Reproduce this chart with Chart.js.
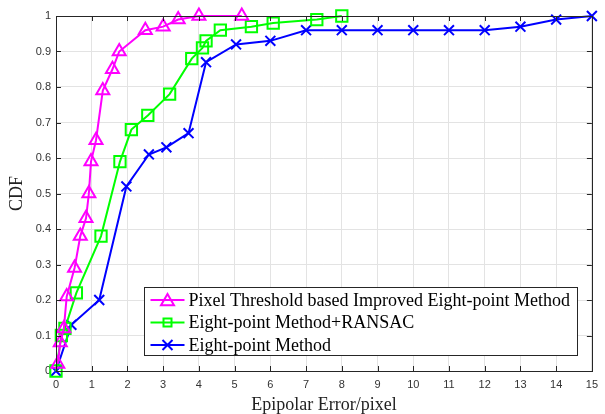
<!DOCTYPE html>
<html>
<head>
<meta charset="utf-8">
<script src="https://cdn.jsdelivr.net/npm/chart.js@4"></script>
<style>
  html, body { margin: 0; padding: 0; background: #fff; }
  #wrap { width: 605px; height: 414px; }
</style>
</head>
<body>
<div id="wrap"><canvas id="chart" width="605" height="414"></canvas></div>
<script>
// Pixel Threshold based Improved Eight-point Method
const improvedX = [0.05, 0.12, 0.22, 0.3, 0.52, 0.68, 0.84, 0.92, 0.98, 1.12, 1.31, 1.58, 1.77, 2.5, 3.0, 3.42, 4.0, 5.2];
const improvedY = [0.02, 0.08, 0.12, 0.21, 0.29, 0.38, 0.43, 0.5, 0.59, 0.65, 0.79, 0.85, 0.9, 0.96, 0.97, 0.99, 1.0, 1.0];

// Eight-point Method+RANSAC
const ransacX = [0, 0.15, 0.25, 0.57, 1.26, 1.79, 2.11, 2.57, 3.18, 3.8, 4.1, 4.2, 4.6, 5.47, 6.08, 7.3, 8.0];
const ransacY = [0, 0.1, 0.12, 0.22, 0.38, 0.59, 0.68, 0.72, 0.78, 0.88, 0.91, 0.93, 0.96, 0.97, 0.98, 0.99, 1.0];

// Eight-point Method
const eightX = [0, 0.43, 1.21, 1.97, 2.6, 3.09, 3.71, 4.2, 5.04, 6, 7, 8, 9, 10, 11, 12, 13, 14, 15];
const eightY = [0, 0.13, 0.2, 0.52, 0.61, 0.63, 0.67, 0.87, 0.92, 0.93, 0.96, 0.96, 0.96, 0.96, 0.96, 0.96, 0.97, 0.99, 1.0];

const seriesNames = [
  "Pixel Threshold based Improved Eight-point Method",
  "Eight-point Method+RANSAC",
  "Eight-point Method",
];

const xTicks = [0, 1, 2, 3, 4, 5, 6, 7, 8, 9, 10, 11, 12, 13, 14, 15];
const yTicks = [0, 0.1, 0.2, 0.3, 0.4, 0.5, 0.6, 0.7, 0.8, 0.9, 1];

const serif = "'Liberation Serif', 'Times New Roman', serif";
const sans = "'Liberation Sans', Arial, sans-serif";

const toPoints = (xs, ys) => xs.map((x, i) => ({ x: x, y: ys[i] }));

const makeSet = (label, xs, ys, color, style, radius) => ({
  label: label,
  data: toPoints(xs, ys),
  showLine: true,
  borderColor: color,
  backgroundColor: "rgba(0,0,0,0)",
  borderWidth: 2,
  pointStyle: style,
  pointRadius: radius,
  pointBorderWidth: 2,
  pointBorderColor: color,
  pointBackgroundColor: "rgba(0,0,0,0)",
  tension: 0,
  clip: false,
});

const sets = [
  makeSet(seriesNames[0], improvedX, improvedY, "#ff00ff", "triangle", 7.5),
  makeSet(seriesNames[1], ransacX, ransacY, "#00ff00", "rect", 8),
  makeSet(seriesNames[2], eightX, eightY, "#0000ff", "crossRot", 7),
];

// matlab style box: border on all sides + inward ticks, legend inside
const boxPlugin = {
  id: "box",
  afterDatasetsDraw(chart) {
    const { ctx, chartArea: a, scales } = chart;
    ctx.save();
    ctx.strokeStyle = "#262626";
    ctx.lineWidth = 1;
    ctx.beginPath();
    xTicks.forEach((t) => {
      const px = Math.round(scales.x.getPixelForValue(t)) + 0.5;
      ctx.moveTo(px, a.bottom);
      ctx.lineTo(px, a.bottom - 5);
      ctx.moveTo(px, a.top);
      ctx.lineTo(px, a.top + 5);
    });
    yTicks.forEach((t) => {
      const py = Math.round(scales.y.getPixelForValue(t)) + 0.5;
      ctx.moveTo(a.left, py);
      ctx.lineTo(a.left + 5, py);
      ctx.moveTo(a.right, py);
      ctx.lineTo(a.right - 5, py);
    });
    ctx.stroke();
    ctx.strokeRect(Math.round(a.left) + 0.5, Math.round(a.top) + 0.5, Math.round(a.right - a.left), Math.round(a.bottom - a.top));
    ctx.restore();
  },
  afterDraw(chart) {
    const { ctx, chartArea: a } = chart;
    ctx.save();
    ctx.font = "18px " + serif;
    let textW = 0;
    seriesNames.forEach((n) => { textW = Math.max(textW, ctx.measureText(n).width); });
    const rowH = 22.5;
    const w = Math.round(44 + textW + 8);
    const h = 68;
    const right = a.right - 15;
    const bottom = a.bottom - 16;
    const left = Math.round(right - w) + 0.5;
    const top = Math.round(bottom - h) + 0.5;
    ctx.fillStyle = "#fff";
    ctx.fillRect(left, top, w, h);
    ctx.strokeStyle = "#262626";
    ctx.lineWidth = 1;
    ctx.strokeRect(left, top, w, h);
    chart.data.datasets.forEach((ds, i) => {
      const cy = top + 12.5 + i * rowH;
      const x0 = left + 6;
      const x1 = left + 40;
      const cx = (x0 + x1) / 2;
      ctx.strokeStyle = ds.borderColor;
      ctx.lineWidth = 2;
      ctx.beginPath();
      ctx.moveTo(x0, cy);
      ctx.lineTo(x1, cy);
      ctx.stroke();
      ctx.beginPath();
      if (ds.pointStyle === "triangle") {
        const r = 7.5;
        for (let k = 0; k < 3; k++) {
          const ang = k * 2 * Math.PI / 3;
          const px = cx + Math.sin(ang) * r;
          const py = cy + 1.5 - Math.cos(ang) * r;
          if (k === 0) ctx.moveTo(px, py); else ctx.lineTo(px, py);
        }
        ctx.closePath();
      } else if (ds.pointStyle === "rect") {
        ctx.rect(cx - 4, cy - 4, 8, 8);
      } else {
        ctx.moveTo(cx - 5, cy - 5); ctx.lineTo(cx + 5, cy + 5);
        ctx.moveTo(cx + 5, cy - 5); ctx.lineTo(cx - 5, cy + 5);
      }
      ctx.stroke();
      ctx.fillStyle = "#000";
      ctx.textBaseline = "middle";
      ctx.textAlign = "left";
      ctx.fillText(ds.label, left + 44, cy + 1);
    });
    ctx.restore();
  },
};

const ctx = document.getElementById("chart").getContext("2d");
const myChart = new Chart(ctx, {
  type: "scatter",
  data: { datasets: sets },
  plugins: [boxPlugin],
  options: {
    responsive: false,
    animation: false,
    layout: { padding: { top: 16, right: 8, left: 0, bottom: 0 } },
    plugins: { legend: { display: false }, tooltip: { enabled: false } },
    scales: {
      x: {
        type: "linear",
        min: 0,
        max: 15,
        afterBuildTicks: (scale) => { scale.ticks = xTicks.map((v) => ({ value: v })); },
        afterFit: (scale) => { scale.height = 43; },
        grid: { color: "#e3e3e3", drawTicks: false },
        border: { display: false },
        ticks: {
          padding: 7,
          color: "#333",
          font: { family: sans, size: 11 },
          maxRotation: 0,
          callback: (v) => String(v),
        },
        title: {
          display: true,
          text: "Epipolar Error/pixel",
          color: "#222",
          font: { family: serif, size: 18, lineHeight: 1 },
          padding: { top: 0, bottom: 0 },
        },
      },
      y: {
        type: "linear",
        min: 0,
        max: 1,
        afterBuildTicks: (scale) => { scale.ticks = yTicks.map((v) => ({ value: v })); },
        afterFit: (scale) => { scale.width = 56; },
        grid: { color: "#e3e3e3", drawTicks: false },
        border: { display: false },
        ticks: {
          padding: 5,
          color: "#333",
          font: { family: sans, size: 11 },
          callback: (v) => String(Math.round(v * 10) / 10),
        },
        title: {
          display: true,
          text: "CDF",
          color: "#222",
          font: { family: serif, size: 18, lineHeight: 1 },
          padding: { top: 8, bottom: 0 },
        },
      },
    },
  },
});
</script>
</body>
</html>
